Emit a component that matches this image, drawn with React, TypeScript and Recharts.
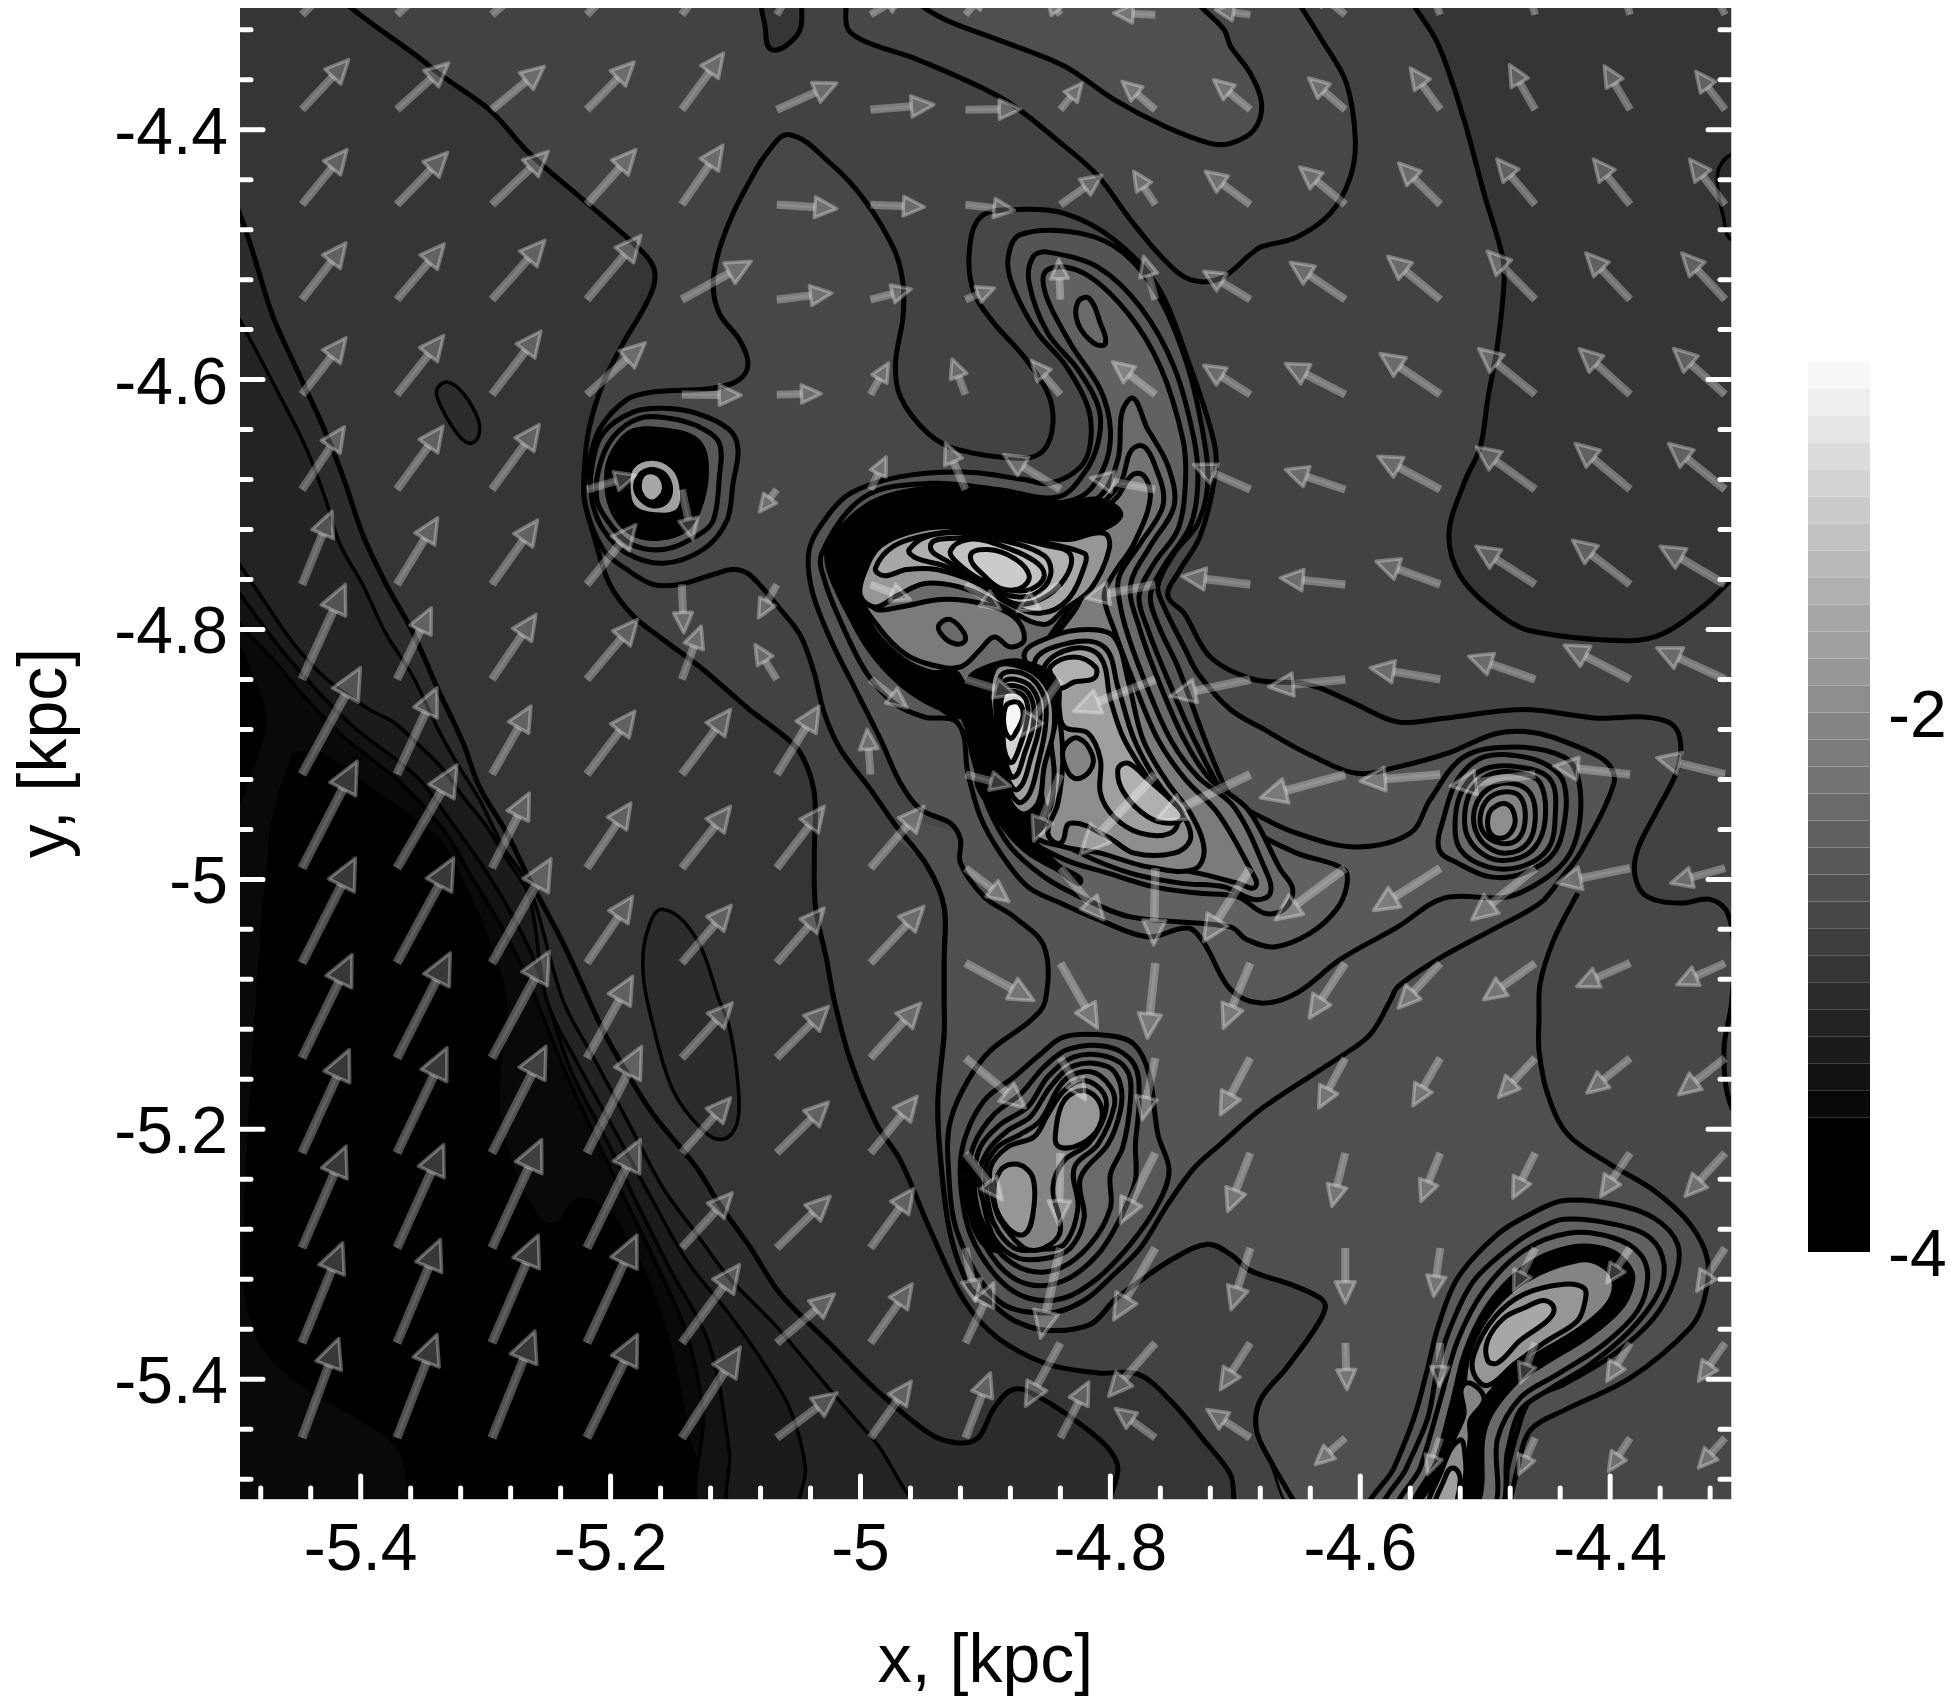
import { ScatterChart, Scatter, XAxis, YAxis, BarChart, Bar, Label } from 'recharts';

// field of view, kpc
const xDomain = [-5.4966, -4.3033];
const yDomain = [-5.4959, -4.3026];

const xTicks = [-5.48, -5.44, -5.4, -5.36, -5.32, -5.28, -5.24, -5.2, -5.16, -5.12, -5.08, -5.04, -5, -4.96, -4.92, -4.88, -4.84, -4.8, -4.76, -4.72, -4.68, -4.64, -4.6, -4.56, -4.52, -4.48, -4.44, -4.4, -4.36, -4.32];
const yTicks = xTicks;
const majorTicks = [-5.4, -5.2, -5, -4.8, -4.6, -4.4];

// colour bar levels (log scale), bottom band is the wide black one
const barLevels = [-3.5, -3.4, -3.3, -3.2, -3.1, -3, -2.9, -2.8, -2.7, -2.6, -2.5, -2.4, -2.3, -2.2, -2.1, -2, -1.9, -1.8, -1.7, -1.6, -1.5, -1.4, -1.3, -1.2, -1.1, -1, -0.9, -0.8, -0.7];
const barHeights = [0.5, 0.1, 0.1, 0.1, 0.1, 0.1, 0.1, 0.1, 0.1, 0.1, 0.1, 0.1, 0.1, 0.1, 0.1, 0.1, 0.1, 0.1, 0.1, 0.1, 0.1, 0.1, 0.1, 0.1, 0.1, 0.1, 0.1, 0.1, 0.1];

// velocity arrows: tails on a regular grid, components in arbitrary units
const arrowXs = [-5.447, -5.371, -5.295, -5.219, -5.143, -5.067, -4.992, -4.916, -4.84, -4.764, -4.688, -4.612, -4.536, -4.46, -4.384, -4.308];
const arrowYs = [-4.308, -4.384, -4.46, -4.536, -4.612, -4.688, -4.764, -4.84, -4.916, -4.991, -5.067, -5.143, -5.219, -5.295, -5.371, -5.447];
const arrowU = [
  [150, 155, 155, 140, 125, 50, 100, 60, -40, -125, -105, -100, -40, -30, -30, -50],
  [140, 155, 157, 142, 125, 180, 190, 165, 65, -100, -110, -110, -90, -77, -78, -88],
  [135, 152, 169, 147, 123, 180, 162, 147, 124, -65, -135, -137, -125, -115, -110, -107],
  [132, 142, 159, 162, 208, 165, 122, 87, -5, -35, -140, -165, -158, -143, -133, -130],
  [132, 140, 147, 175, 178, 133, 54, -40, -87, -128, -140, -180, -180, -170, -153, -155],
  [127, 138, 142, 147, 33, -52, 47, -60, -170, -195, -170, -180, -187, -177, -165, -170],
  [90, 122, 137, 147, 6, -55, 120, 105, -130, -210, -205, -195, -193, -178, -173, -195],
  [130, 103, 132, 152, 58, -65, 110, 150, -120, -245, -240, -230, -210, -200, -198, -205],
  [175, 120, 117, 144, 146, 127, -10, 135, -80, -225, -280, -255, -240, -255, -230, -205],
  [165, 180, 112, 132, 146, 142, 160, 130, 130, -5, -140, -210, -200, -190, -220, -163],
  [160, 170, 177, 137, 148, 142, 160, 205, 111, -24, -81, -108, -126, -155, -160, -145],
  [150, 160, 172, 137, 151, 155, 150, 180, 75, -40, -90, -80, -82, -110, -130, -140],
  [142, 150, 162, 164, 146, 155, 140, 110, -5, -105, -68, -40, -58, -67, -88, -120],
  [132, 140, 149, 160, 151, 160, 130, 30, -60, -125, -58, 0, -20, -65, -70, -85],
  [122, 130, 139, 150, 173, 173, 125, 85, -105, -140, -90, 5, -3, -45, -70, -80],
  [110, 120, 129, 152, 175, 180, 122, 75, 85, -120, -130, -90, -38, -50, -65, -80],
];
const arrowV = [
  [150, 145, 135, 145, 170, 85, 60, 70, 50, 5, 15, 80, 100, 100, 100, 100],
  [150, 140, 130, 143, 170, 80, 15, 2, 80, 85, 90, 95, 125, 135, 132, 115],
  [165, 157, 160, 165, 178, -12, -7, -17, 88, 100, 100, 113, 125, 137, 137, 137],
  [170, 167, 178, 192, 115, 20, 32, 35, 120, 130, 85, 112, 130, 145, 140, 140],
  [170, 177, 190, 155, -2, 3, 95, 107, 102, 98, 88, 93, 123, 138, 138, 138],
  [188, 190, 195, 43, -150, -67, 98, 140, 105, 35, 75, 60, 100, 128, 138, 138],
  [220, 200, 193, 180, -145, -100, -45, -75, -80, -40, 25, 20, 70, 115, 133, 115],
  [285, 215, 195, 180, 160, 105, -85, -45, -170, -95, -50, -22, 35, 70, 103, 95],
  [320, 260, 205, 190, 195, 205, 135, -35, -200, -240, -135, -70, -20, -35, 25, 50],
  [320, 310, 225, 195, 185, 185, 185, -100, -155, -230, -220, -155, -127, -155, -45, -45],
  [315, 315, 313, 200, 173, 165, 170, -112, -195, -225, -195, -165, -135, -110, -70, -65],
  [310, 315, 320, 245, 165, 155, 165, -150, -125, -185, -170, -150, -143, -118, -105, -110],
  [310, 315, 320, 320, 165, 153, 170, -140, -215, -210, -175, -160, -145, -135, -130, -130],
  [305, 310, 325, 325, 165, 155, 178, -160, -270, -215, -185, -165, -145, -130, -105, -130],
  [300, 310, 323, 323, 235, 147, 177, 180, -190, -160, -140, -140, -130, -120, -115, -115],
  [298, 310, 320, 310, 272, 135, 170, 195, 168, 88, 85, -80, -110, -110, -100, -90],
];
const ARROW_SCALE = 0.000267;

// contours, x,y pairs in pc. Ones that leave the frame are closed outside it
const closeBR = [-4250, -5520, -4250, -4250, -5520, -4250];

const floorField = [-5600, -5600, -4200, -5600, -4200, -4200, -5600, -4200];
const holeLow = [-5454, -4899, -5430, -4899, -5385, -4931, -5355, -4952, -5334, -4971, -5313, -5011, -5291, -5064, -5283, -5097, -5289, -5177, -5283, -5212, -5265, -5257, -5247, -5275, -5230, -5257, -5219, -5255, -5198, -5268, -5185, -5289, -5171, -5316, -5158, -5351, -5147, -5391, -5137, -5444, -5129, -5503, -5351, -5503, -5371, -5455, -5404, -5431, -5438, -5412, -5478, -5377, -5492, -5337, -5494, -5284, -5489, -5177, -5484, -5097, -5473, -4963, -5465, -4928, -5457, -4907];
const holeWedge = [-5508, -4813, -5497, -4813, -5489, -4830, -5476, -4864, -5478, -4888, -5492, -4928, -5500, -4944, -5510, -4944];
const lineE = [-5515, -4760, -5465, -4830, -5417, -4883, -5371, -4920, -5334, -4960, -5313, -4995, -5286, -5040, -5265, -5083, -5238, -5150, -5211, -5209, -5185, -5263, -5161, -5313, -5139, -5364, -5126, -5425, -5119, -5508, ...closeBR];
const lineD = [-5515, -4745, -5497, -4771, -5457, -4824, -5409, -4875, -5355, -4918, -5329, -4952, -5302, -4990, -5278, -5030, -5259, -5070, -5233, -5150, -5203, -5209, -5177, -5263, -5153, -5311, -5121, -5372, -5105, -5457, -5099, -5508, ...closeBR];
const lineC = [-5515, -4725, -5497, -4748, -5478, -4776, -5454, -4811, -5428, -4839, -5393, -4864, -5374, -4874, -5355, -4891, -5334, -4912, -5318, -4934, -5299, -4958, -5283, -4984, -5265, -5014, -5251, -5097, -5225, -5150, -5195, -5204, -5169, -5252, -5139, -5305, -5105, -5348, -5077, -5388, -5056, -5425, -5044, -5471, -5045, -5508, ...closeBR];
const lineB = [-5515, -4520, -5497, -4552, -5470, -4603, -5444, -4654, -5428, -4696, -5417, -4731, -5398, -4765, -5380, -4803, -5358, -4838, -5339, -4878, -5323, -4907, -5305, -4936, -5286, -4974, -5265, -5006, -5238, -5097, -5214, -5142, -5185, -5196, -5158, -5247, -5131, -5284, -5105, -5319, -5069, -5356, -5024, -5409, -4989, -5449, -4938, -5508, ...closeBR];
const lineA = [-5515, -4430, -5497, -4467, -5486, -4499, -5470, -4550, -5452, -4590, -5430, -4638, -5414, -4678, -5398, -4725, -5380, -4763, -5358, -4803, -5339, -4846, -5318, -4891, -5305, -4926, -5283, -4963, -5265, -5000, -5238, -5051, -5206, -5121, -5185, -5158, -5166, -5188, -5131, -5231, -5113, -5260, -5088, -5295, -5064, -5332, -5024, -5372, -4987, -5409, -4944, -5444, -4922, -5451, -4906, -5447, -4893, -5423, -4877, -5408, -4856, -5415, -4824, -5436, -4802, -5455, -4794, -5471, -4797, -5508, ...closeBR];
const smallOval = [-5339, -4608, -5331, -4602, -5318, -4611, -5306, -4632, -5306, -4646, -5313, -4651, -5323, -4643, -5337, -4619];
const longOval = [-5158, -5024, -5171, -5043, -5174, -5075, -5167, -5113, -5150, -5169, -5126, -5201, -5110, -5208, -5099, -5196, -5098, -5164, -5105, -5118, -5113, -5097, -5131, -5048];
const lineG = [-5415, -4280, -5345, -4349, -5297, -4384, -5265, -4419, -5222, -4456, -5185, -4488, -5167, -4507, -5165, -4523, -5174, -4544, -5190, -4571, -5206, -4603, -5217, -4638, -5221, -4670, -5221, -4696, -5214, -4723, -5201, -4763, -5182, -4789, -5158, -4808, -5126, -4832, -5089, -4864, -5064, -4883, -5048, -4899, -5037, -4931, -5037, -4982, -5036, -5022, -5027, -5065, -5021, -5097, -5008, -5145, -4987, -5196, -4968, -5225, -4944, -5281, -4917, -5337, -4890, -5367, -4850, -5388, -4810, -5395, -4778, -5396, -4752, -5417, -4725, -5449, -4704, -5476, -4694, -5508, -4250, -5520, -4250, -4250];
const topDip = [-5077, -4285, -5076, -4320, -5071, -4336, -5053, -4327, -5047, -4312, -5053, -4285];
const rightLow = [-4565, -4285, -4538, -4331, -4517, -4392, -4501, -4451, -4486, -4502, -4485, -4523, -4490, -4571, -4498, -4616, -4504, -4654, -4517, -4683, -4529, -4723, -4520, -4757, -4490, -4787, -4464, -4801, -4386, -4809, -4357, -4803, -4325, -4781, -4303, -4760, -4270, -4730, -4250, -4250, -4565, -4250];
const edgeDip = [-4303, -4420, -4314, -4435, -4309, -4472, -4303, -4488, -4280, -4488, -4280, -4420];
const ridgeOuter = [-5009, -4280, -5011, -4317, -4997, -4329, -4954, -4344, -4885, -4376, -4837, -4413, -4810, -4437, -4784, -4472, -4757, -4504, -4736, -4520, -4712, -4519, -4687, -4499, -4680, -4494, -4651, -4486, -4624, -4467, -4608, -4438, -4604, -4408, -4611, -4363, -4629, -4331, -4660, -4285, -4690, -4260, -5009, -4260];
const ridgeInner = [-4960, -4290, -4938, -4309, -4890, -4328, -4837, -4349, -4797, -4376, -4757, -4397, -4720, -4411, -4704, -4411, -4685, -4400, -4679, -4379, -4688, -4355, -4704, -4333, -4709, -4320, -4736, -4290, -4736, -4260, -4960, -4260];
const outerEnvelope = [-4647, -5508, -4672, -5465, -4683, -5441, -4680, -5417, -4659, -5391, -4637, -5361, -4628, -5343, -4632, -5335, -4656, -5324, -4688, -5313, -4704, -5300, -4722, -5292, -4749, -5303, -4776, -5321, -4797, -5337, -4816, -5356, -4850, -5361, -4877, -5353, -4898, -5337, -4912, -5327, -4928, -5284, -4936, -5222, -4938, -5177, -4933, -5124, -4933, -5097, -4933, -5065, -4933, -5022, -4946, -4990, -4971, -4958, -4992, -4928, -5016, -4896, -5029, -4867, -5037, -4835, -5048, -4805, -5064, -4784, -5089, -4756, -5102, -4752, -5118, -4756, -5145, -4764, -5166, -4764, -5187, -4752, -5206, -4736, -5221, -4696, -5218, -4670, -5209, -4640, -5187, -4616, -5166, -4610, -5118, -4607, -5097, -4600, -5090, -4587, -5097, -4568, -5113, -4547, -5118, -4523, -5113, -4496, -5102, -4467, -5088, -4440, -5075, -4419, -5057, -4404, -5024, -4427, -4997, -4456, -4973, -4496, -4966, -4523, -4966, -4550, -4972, -4587, -4968, -4614, -4946, -4643, -4922, -4656, -4869, -4663, -4853, -4656, -4846, -4635, -4850, -4611, -4869, -4582, -4893, -4555, -4909, -4531, -4913, -4499, -4904, -4470, -4877, -4464, -4837, -4467, -4797, -4488, -4762, -4526, -4736, -4590, -4717, -4650, -4716, -4675, -4728, -4725, -4746, -4755, -4754, -4773, -4741, -4787, -4720, -4822, -4685, -4840, -4647, -4843, -4632, -4847, -4605, -4859, -4570, -4874, -4533, -4871, -4469, -4864, -4410, -4871, -4373, -4870, -4352, -4875, -4344, -4888, -4346, -4912, -4362, -4944, -4378, -4976, -4380, -4998, -4370, -5014, -4343, -5019, -4320, -5016, -4306, -5027, -4301, -5060, -4303, -5100, -4309, -5137, -4303, -5182, -4280, -5210, -4250, -5300, -4250, -5520];

// floor of the central region: only its two real edges get a line
const centerEdgeWest = [-4647, -5508, -4672, -5465, -4683, -5441, -4680, -5417, -4659, -5391, -4637, -5361, -4628, -5343, -4632, -5335, -4656, -5324, -4688, -5313, -4704, -5300, -4722, -5292, -4749, -5303, -4776, -5321, -4797, -5337, -4816, -5356, -4850, -5361, -4877, -5353, -4898, -5337, -4912, -5327, -4928, -5284, -4936, -5222, -4938, -5177, -4933, -5124, -4933, -5097, -4933, -5065, -4933, -5022, -4946, -4990, -4971, -4958];
const centerEdgeEast = [-4426, -5011, -4445, -5048, -4456, -5083, -4457, -5113, -4457, -5137, -4450, -5172, -4434, -5204, -4400, -5228, -4365, -5249, -4336, -5276, -4322, -5305, -4325, -5337, -4336, -5359, -4384, -5399, -4437, -5425, -4464, -5441, -4474, -5471, -4482, -5508];
const centerFloor = [...centerEdgeWest, -4898, -4968, -4450, -4990, ...centerEdgeEast];

const blobOuter = [-5182, -4626, -5158, -4623, -5131, -4627, -5105, -4640, -5098, -4656, -5102, -4683, -5107, -4713, -5126, -4736, -5158, -4747, -5187, -4739, -5206, -4720, -5215, -4696, -5215, -4670, -5206, -4643];
const blobSecond = [-5177, -4631, -5153, -4631, -5129, -4638, -5113, -4651, -5113, -4678, -5118, -4713, -5131, -4725, -5158, -4736, -5185, -4731, -5203, -4712, -5211, -4696, -5209, -4670, -5198, -4646];
const blobDense = [-5182, -4639, -5153, -4639, -5131, -4646, -5122, -4662, -5124, -4694, -5137, -4720, -5161, -4729, -5185, -4724, -5201, -4704, -5205, -4675, -5198, -4654];
const blobRingA = [-5183, -4670, -5167, -4663, -5150, -4670, -5143, -4686, -5146, -4705, -5166, -4708, -5182, -4702, -5186, -4686];
const blobRingB = [-5178, -4675, -5167, -4670, -5155, -4675, -5150, -4688, -5155, -4700, -5167, -4703, -5178, -4696, -5182, -4686];
const blobCore = [-5174, -4676, -5166, -4674, -5159, -4679, -5157, -4688, -5161, -4695, -5167, -4698, -5174, -4694, -5177, -4686];

const complexA = [-5041, -4736, -5039, -4768, -5024, -4808, -5005, -4846, -4984, -4888, -4968, -4923, -4952, -4944, -4928, -4955, -4920, -4968, -4920, -4987, -4901, -5014, -4877, -5030, -4853, -5054, -4852, -5097, -4864, -5113, -4896, -5137, -4914, -5161, -4928, -5193, -4930, -5225, -4922, -5284, -4890, -5337, -4850, -5347, -4821, -5337, -4797, -5316, -4776, -5295, -4754, -5260, -4733, -5231, -4712, -5212, -4677, -5182, -4616, -5142, -4592, -5124, -4576, -5097, -4570, -5086, -4538, -5064, -4490, -5038, -4456, -5019, -4440, -5000, -4424, -4979, -4397, -4923, -4402, -4907, -4421, -4896, -4458, -4883, -4490, -4883, -4530, -4899, -4570, -4910, -4603, -4915, -4643, -4899, -4677, -4880, -4704, -4864, -4730, -4835, -4741, -4814, -4757, -4782, -4762, -4765, -4749, -4739, -4730, -4715, -4722, -4683, -4725, -4648, -4738, -4590, -4760, -4536, -4789, -4499, -4824, -4483, -4872, -4484, -4882, -4504, -4877, -4528, -4858, -4563, -4837, -4587, -4818, -4622, -4816, -4651, -4824, -4670, -4848, -4683, -4869, -4680, -4917, -4674, -4970, -4678, -5008, -4691, -5027, -4710];
const complexB = [-5031, -4739, -5028, -4763, -5013, -4800, -4995, -4835, -4973, -4859, -4949, -4870, -4922, -4875, -4914, -4915, -4904, -4950, -4888, -4979, -4866, -5006, -4840, -5019, -4810, -5032, -4770, -5046, -4738, -5039, -4725, -5051, -4704, -5088, -4680, -5099, -4651, -5091, -4616, -5064, -4570, -5038, -4533, -5015, -4482, -5014, -4450, -4998, -4432, -4979, -4424, -4950, -4426, -4918, -4437, -4902, -4477, -4894, -4517, -4902, -4544, -4936, -4560, -4963, -4603, -4974, -4651, -4963, -4691, -4944, -4704, -4934, -4722, -4894, -4746, -4830, -4761, -4798, -4768, -4773, -4757, -4749, -4736, -4717, -4730, -4683, -4733, -4648, -4749, -4590, -4776, -4542, -4810, -4510, -4850, -4498, -4862, -4502, -4865, -4523, -4850, -4563, -4826, -4592, -4809, -4624, -4810, -4651, -4821, -4675, -4842, -4694, -4890, -4688, -4944, -4683, -4997, -4694];
const complexC = [-5020, -4741, -5019, -4763, -5004, -4798, -4987, -4824, -4965, -4846, -4939, -4862, -4920, -4867, -4910, -4902, -4898, -4942, -4880, -4974, -4853, -4998, -4824, -5014, -4784, -5030, -4704, -5038, -4691, -5048, -4669, -5054, -4640, -5043, -4619, -5024, -4611, -5006, -4613, -4992, -4651, -4979, -4691, -4958, -4704, -4942, -4733, -4888, -4754, -4840, -4770, -4800, -4777, -4773, -4765, -4747, -4746, -4720, -4740, -4683, -4742, -4648, -4760, -4590, -4786, -4547, -4821, -4515, -4850, -4512, -4852, -4531, -4832, -4571, -4808, -4608, -4800, -4640, -4805, -4670, -4824, -4694, -4864, -4699, -4917, -4694, -4970, -4696, -5000, -4705];
const lobePeak = [-4826, -4538, -4817, -4535, -4808, -4555, -4804, -4571, -4813, -4571, -4826, -4555];
const complexD = [-5016, -4744, -5001, -4717, -4963, -4697, -4914, -4692, -4872, -4700, -4837, -4704, -4808, -4693, -4794, -4664, -4785, -4616, -4770, -4640, -4754, -4669, -4749, -4701, -4768, -4733, -4784, -4765, -4777, -4798, -4762, -4840, -4741, -4888, -4720, -4920, -4690, -4944, -4664, -4992, -4654, -5008, -4661, -5024, -4677, -5027, -4698, -5014, -4730, -5011, -4765, -5006, -4802, -4995, -4837, -4984, -4872, -4963, -4893, -4931, -4904, -4888, -4914, -4859, -4941, -4851, -4965, -4835, -4989, -4808, -5008, -4773];
const denseArc = [-5029, -4739, -5015, -4715, -4984, -4693, -4930, -4684, -4877, -4689, -4837, -4697, -4810, -4694, -4790, -4706, -4800, -4719, -4834, -4728, -4877, -4724, -4914, -4719, -4952, -4720, -4984, -4733, -4999, -4755, -5000, -4773, -4987, -4800, -4965, -4822, -4944, -4832, -4920, -4835, -4917, -4870, -4946, -4859, -4973, -4840, -4997, -4811, -5019, -4773];
const flankA = [-4794, -4768, -4788, -4798, -4773, -4840, -4752, -4888, -4730, -4918, -4701, -4942, -4677, -4990, -4672, -5011, -4685, -5016, -4709, -5006, -4744, -5003, -4784, -4995, -4824, -4979, -4856, -4958, -4877, -4926, -4877, -4862, -4850, -4808, -4824, -4768, -4813, -4710, -4792, -4683, -4778, -4653, -4762, -4675, -4758, -4701, -4776, -4731, -4792, -4755];
const flankB = [-4805, -4773, -4797, -4800, -4781, -4843, -4762, -4888, -4740, -4920, -4714, -4947, -4688, -4992, -4684, -5006, -4698, -5003, -4730, -4995, -4776, -4987, -4816, -4968, -4842, -4952, -4861, -4926, -4861, -4862, -4845, -4808, -4824, -4776, -4816, -4720, -4794, -4693, -4778, -4675, -4768, -4693, -4781, -4731, -4797, -4755];
const lakeA = [-4869, -4822, -4848, -4806, -4818, -4800, -4797, -4806, -4786, -4840, -4774, -4888, -4754, -4923, -4736, -4947, -4725, -4976, -4733, -4992, -4770, -4990, -4808, -4979, -4837, -4974, -4861, -4963, -4848, -4942, -4845, -4915, -4848, -4880, -4842, -4851];
const lakeB = [-4861, -4827, -4834, -4811, -4805, -4814, -4794, -4846, -4781, -4888, -4762, -4923, -4741, -4950, -4736, -4968, -4749, -4979, -4781, -4979, -4802, -4966, -4832, -4955, -4840, -4971, -4850, -4963, -4842, -4939, -4838, -4904, -4840, -4875, -4842, -4854];
const lakeC = [-4853, -4830, -4829, -4815, -4808, -4822, -4800, -4856, -4789, -4888, -4765, -4926, -4746, -4950, -4752, -4963, -4776, -4963, -4797, -4950, -4808, -4931, -4808, -4904, -4818, -4883, -4837, -4878, -4841, -4862, -4842, -4843];
const lakeCrest = [-4848, -4830, -4829, -4822, -4812, -4830, -4813, -4839, -4829, -4842, -4840, -4847, -4845, -4840];
const lakeDip = [-4837, -4894, -4826, -4887, -4814, -4902, -4818, -4915, -4829, -4919, -4837, -4907];
const lakeSouth = [-4794, -4912, -4786, -4907, -4770, -4920, -4749, -4939, -4742, -4950, -4752, -4955, -4770, -4950, -4789, -4931];
const westPool = [-5000, -4773, -4984, -4800, -4965, -4819, -4944, -4828, -4920, -4830, -4904, -4816, -4893, -4806, -4880, -4814, -4869, -4808, -4877, -4790, -4904, -4779, -4936, -4776, -4968, -4782, -4987, -4784];
const westDip = [-4937, -4796, -4928, -4792, -4917, -4803, -4917, -4810, -4926, -4811, -4936, -4803];
const crownA = [-4997, -4755, -4984, -4733, -4952, -4720, -4914, -4718, -4877, -4724, -4834, -4728, -4805, -4723, -4801, -4736, -4816, -4768, -4837, -4784, -4853, -4796, -4882, -4784, -4914, -4768, -4947, -4763, -4971, -4773, -4988, -4782, -5000, -4773];
const crownB = [-4988, -4751, -4973, -4733, -4944, -4724, -4904, -4721, -4861, -4729, -4821, -4739, -4820, -4747, -4834, -4776, -4856, -4787, -4882, -4779, -4906, -4763, -4939, -4752, -4963, -4752, -4981, -4757];
const crownC = [-4961, -4736, -4941, -4724, -4898, -4724, -4850, -4733, -4832, -4740, -4837, -4760, -4856, -4776, -4877, -4779, -4904, -4763, -4933, -4749, -4955, -4743];
const crownD = [-4944, -4733, -4925, -4727, -4890, -4728, -4853, -4741, -4848, -4757, -4861, -4772, -4880, -4773, -4906, -4763, -4928, -4747];
const crownE = [-4928, -4737, -4914, -4728, -4893, -4731, -4861, -4745, -4853, -4757, -4864, -4768, -4882, -4768, -4904, -4760, -4922, -4747];
const crownF = [-4912, -4741, -4898, -4736, -4877, -4743, -4865, -4757, -4872, -4767, -4888, -4767, -4901, -4757];
const southFlankDense = [-4906, -4915, -4893, -4950, -4872, -4976, -4845, -4993, -4822, -5003, -4842, -4986, -4861, -4966, -4880, -4939];
const spikeBase = [-4916, -4840, -4893, -4826, -4869, -4824, -4842, -4840, -4841, -4870, -4850, -4902, -4853, -4931, -4850, -4952, -4861, -4966, -4882, -4960, -4898, -4939, -4909, -4907, -4916, -4875];
const spikeA = [-4893, -4832, -4866, -4832, -4848, -4851, -4845, -4878, -4853, -4910, -4858, -4939, -4872, -4947, -4885, -4926, -4893, -4888];
const spikeB = [-4888, -4838, -4868, -4836, -4853, -4854, -4852, -4878, -4858, -4908, -4865, -4932, -4874, -4938, -4884, -4918, -4890, -4888];
const spikeC = [-4886, -4843, -4869, -4842, -4858, -4856, -4857, -4878, -4864, -4904, -4870, -4923, -4877, -4928, -4884, -4912, -4888, -4886];
const spikeD = [-4886, -4848, -4870, -4847, -4862, -4859, -4862, -4878, -4869, -4900, -4874, -4915, -4879, -4918, -4884, -4904, -4887, -4883];
const spikeE = [-4886, -4852, -4872, -4851, -4866, -4862, -4868, -4878, -4873, -4895, -4878, -4906, -4881, -4906, -4885, -4896, -4886, -4880];
const spikeTip = [-4884, -4862, -4878, -4858, -4872, -4860, -4870, -4870, -4876, -4883, -4880, -4887, -4885, -4878];

const southA = [-4837, -5126, -4802, -5125, -4781, -5132, -4769, -5156, -4762, -5204, -4753, -5233, -4762, -5260, -4784, -5292, -4810, -5319, -4837, -5335, -4866, -5335, -4890, -5319, -4912, -5284, -4920, -5241, -4917, -5209, -4901, -5177, -4877, -5158, -4856, -5140];
const southB = [-4834, -5136, -4802, -5134, -4781, -5148, -4777, -5177, -4780, -5212, -4780, -5241, -4792, -5271, -4810, -5300, -4837, -5321, -4866, -5324, -4890, -5308, -4909, -5273, -4914, -5239, -4909, -5212, -4893, -5188, -4872, -5172, -4853, -5150];
const southC = [-4829, -5142, -4802, -5142, -4786, -5154, -4784, -5177, -4790, -5214, -4800, -5236, -4800, -5263, -4816, -5292, -4840, -5311, -4866, -5313, -4890, -5297, -4905, -5268, -4909, -5239, -4904, -5214, -4888, -5196, -4866, -5182, -4850, -5158];
const southDense = [-4917, -5220, -4905, -5233, -4908, -5255, -4901, -5273, -4888, -5297, -4904, -5292, -4916, -5263, -4918, -5239];
const southD = [-4829, -5149, -4802, -5150, -4792, -5164, -4792, -5185, -4802, -5212, -4824, -5239, -4821, -5271, -4832, -5295, -4850, -5303, -4874, -5303, -4893, -5287, -4902, -5257, -4905, -5236, -4898, -5217, -4882, -5201, -4864, -5190, -4848, -5166];
const southE = [-4837, -5161, -4816, -5154, -4800, -5166, -4797, -5182, -4810, -5212, -4829, -5231, -4826, -5263, -4837, -5292, -4856, -5296, -4877, -5295, -4893, -5276, -4899, -5252, -4900, -5231, -4890, -5214, -4872, -5204, -4856, -5193];
const southF = [-4837, -5169, -4821, -5161, -4805, -5172, -4805, -5190, -4818, -5212, -4837, -5225, -4846, -5247, -4840, -5281, -4853, -5295, -4869, -5295, -4888, -5273, -4894, -5255, -4896, -5231, -4882, -5214, -4861, -5206, -4850, -5188];
const southPeakA = [-4837, -5177, -4821, -5169, -4808, -5180, -4809, -5198, -4824, -5212, -4841, -5214, -4844, -5204];
const southPeakB = [-4888, -5233, -4874, -5228, -4862, -5239, -4862, -5268, -4869, -5284, -4882, -5279, -4893, -5257];

const eastA = [-4437, -4923, -4436, -4950, -4445, -4979, -4469, -4995, -4496, -4998, -4522, -4987, -4537, -4976, -4533, -4950, -4522, -4920, -4501, -4902, -4469, -4902, -4448, -4910];
const eastB = [-4448, -4920, -4444, -4950, -4450, -4976, -4472, -4990, -4498, -4990, -4520, -4976, -4524, -4952, -4518, -4928, -4501, -4912, -4474, -4910];
const eastC = [-4456, -4923, -4452, -4952, -4460, -4974, -4477, -4984, -4498, -4982, -4514, -4966, -4516, -4944, -4509, -4926, -4493, -4915, -4472, -4915];
const eastD = [-4464, -4931, -4460, -4952, -4466, -4971, -4482, -4979, -4498, -4974, -4508, -4960, -4508, -4942, -4498, -4928, -4480, -4923];
const eastE = [-4472, -4934, -4468, -4952, -4474, -4968, -4488, -4971, -4501, -4963, -4504, -4950, -4498, -4936, -4485, -4930];
const eastF = [-4482, -4940, -4476, -4952, -4480, -4963, -4488, -4967, -4496, -4963, -4498, -4952, -4494, -4943];

const cornerA = [-4437, -5257, -4397, -5260, -4365, -5271, -4346, -5292, -4348, -5319, -4365, -5351, -4397, -5380, -4437, -5404, -4464, -5417, -4474, -5441, -4482, -5471, -4490, -5508, -4591, -5508, -4573, -5471, -4557, -5431, -4546, -5391, -4538, -5359, -4522, -5319, -4490, -5284, -4464, -5268];
const cornerB = [-4437, -5272, -4397, -5276, -4368, -5287, -4357, -5308, -4362, -5332, -4384, -5361, -4416, -5388, -4450, -5409, -4472, -5425, -4482, -5457, -4493, -5508, -4579, -5508, -4563, -5471, -4546, -5431, -4538, -5391, -4528, -5359, -4509, -5321, -4477, -5292, -4456, -5279];
const cornerC = [-4432, -5283, -4397, -5287, -4376, -5300, -4370, -5319, -4378, -5345, -4405, -5372, -4442, -5396, -4472, -5415, -4490, -5447, -4498, -5508, -4568, -5508, -4552, -5471, -4536, -5417, -4522, -5369, -4501, -5329, -4469, -5297];
const cornerDense = [-4429, -5292, -4400, -5295, -4384, -5308, -4380, -5321, -4389, -5343, -4416, -5367, -4450, -5388, -4477, -5407, -4498, -5439, -4509, -5508, -4557, -5508, -4541, -5465, -4528, -5417, -4517, -5375, -4496, -5335, -4464, -5305];
const cornerD = [-4426, -5305, -4408, -5308, -4397, -5321, -4402, -5340, -4426, -5361, -4458, -5380, -4482, -5396, -4501, -5417, -4512, -5431, -4517, -5412, -4512, -5377, -4493, -5343, -4464, -5319];
const cornerE = [-4437, -5324, -4421, -5327, -4420, -5337, -4426, -5353, -4450, -5369, -4477, -5388, -4498, -5405, -4509, -5396, -4509, -5380, -4493, -5351, -4469, -5332];
const cornerF = [-4453, -5337, -4445, -5343, -4450, -5353, -4472, -5369, -4490, -5387, -4498, -5385, -4498, -5369, -4485, -5351, -4469, -5343];
const neckA = [-4517, -5404, -4501, -5415, -4512, -5433, -4512, -5447, -4517, -5487, -4533, -5508, -4554, -5508, -4541, -5481, -4525, -5447, -4517, -5428];
const neckB = [-4521, -5449, -4516, -5463, -4517, -5484, -4530, -5508, -4546, -5508, -4536, -5476];
const neckC = [-4526, -5471, -4520, -5481, -4528, -5508, -4541, -5508, -4533, -5481];

// painter's order: level (log scale) and outline of each filled contour
const underLayers: [number, number[]][] = [
  [-3.4, floorField], [-3.5, holeLow], [-3.5, holeWedge],
  [-3.3, lineE], [-3.2, lineD], [-3.1, lineC], [-3, lineB], [-2.9, lineA],
  [-3, smallOval], [-3, longOval],
  [-2.75, lineG], [-2.9, topDip], [-2.9, rightLow], [-3, edgeDip],
  [-2.7, ridgeOuter], [-2.6, ridgeInner], [-2.7, outerEnvelope],
];
const overLayers: [number, number[]][] = [
  [-2.6, blobOuter], [-2.5, blobSecond], [-3.5, blobDense], [-1.7, blobRingA], [-3.5, blobRingB], [-1.6, blobCore],
  [-2.55, complexA], [-2.5, complexB], [-2.4, complexC], [-2.3, lobePeak], [-2.3, complexD],
  [-2.2, flankA], [-2.1, flankB], [-2, lakeA], [-1.9, lakeB], [-1.7, lakeC], [-1.5, lakeCrest], [-2, lakeDip], [-1.5, lakeSouth],
  [-2.1, westPool], [-2.3, westDip],
  [-3.5, denseArc], [-3.5, southFlankDense],
  [-1.8, crownA], [-1.6, crownB], [-1.5, crownC], [-1.4, crownD], [-1.3, crownE], [-1.2, crownF],
  [-3.5, spikeBase], [-1.9, spikeA], [-1.7, spikeB], [-1.5, spikeC], [-1.3, spikeD], [-1.1, spikeE], [-0.7, spikeTip],
  [-2.5, southA], [-2.4, southB], [-2.3, southC], [-3.5, southDense], [-2.2, southD], [-2.1, southE], [-2, southF], [-1.8, southPeakA], [-1.8, southPeakB],
  [-2.4, eastA], [-2.3, eastB], [-2.2, eastC], [-2.1, eastD], [-2, eastE], [-1.9, eastF],
  [-2.5, cornerA], [-2.4, cornerB], [-2.3, cornerC], [-3.5, cornerDense], [-2, cornerD], [-1.8, cornerE], [-1.6, cornerF],
  [-2, neckA], [-1.9, neckB], [-1.7, neckC],
];

const FONT = '"Liberation Sans", Arial, sans-serif';

function grayOf(level: number): string {
  const g = Math.max(0, Math.min(255, Math.round(9 + (level + 3.4) * 88)));
  return `rgb(${g},${g},${g})`;
}

function toPoints(flat: number[]) {
  const out: { x: number; y: number }[] = [];
  for (let i = 0; i < flat.length; i += 2) out.push({ x: flat[i] / 1000, y: flat[i + 1] / 1000 });
  return out;
}

type Pt = { x: number; y: number };

// smooth path through the points, handles limited by the segment so long closing edges don't swing
function smoothPath(p: Pt[], closed: boolean): string {
  const n = p.length;
  const at = (i: number) => (closed ? p[(i + n) % n] : p[Math.max(0, Math.min(n - 1, i))]);
  const tangent = (i: number) => {
    const dx = at(i + 1).x - at(i - 1).x;
    const dy = at(i + 1).y - at(i - 1).y;
    const len = Math.hypot(dx, dy) || 1;
    return { x: dx / len, y: dy / len };
  };
  let d = `M${p[0].x.toFixed(1)},${p[0].y.toFixed(1)}`;
  const last = closed ? n : n - 1;
  for (let i = 0; i < last; i++) {
    const a = at(i);
    const b = at(i + 1);
    const s = Math.hypot(b.x - a.x, b.y - a.y) / 3;
    const ta = tangent(i);
    const tb = tangent(i + 1);
    d += `C${(a.x + ta.x * s).toFixed(1)},${(a.y + ta.y * s).toFixed(1)} ${(b.x - tb.x * s).toFixed(1)},${(b.y - tb.y * s).toFixed(1)} ${b.x.toFixed(1)},${b.y.toFixed(1)}`;
  }
  return closed ? d + 'Z' : d;
}

const NoDot = () => <g />;

function contourSeries(key: string, flat: number[], opts: { fill: string; line: boolean; closed: boolean; width: number }) {
  return (
    <Scatter
      key={key}
      xAxisId="bottom"
      yAxisId="left"
      data={toPoints(flat)}
      shape={NoDot}
      isAnimationActive={false}
      legendType="none"
      line={(props: any) => (
        <path
          d={smoothPath(props.points, opts.closed)}
          fill={opts.fill}
          stroke={opts.line ? '#000' : 'none'}
          strokeWidth={opts.width}
          strokeLinejoin="round"
        />
      )}
    />
  );
}

function layerSeries(layers: [number, number[]][], prefix: string) {
  return layers.map(([level, flat], i) =>
    contourSeries(`${prefix}${i}`, flat, {
      fill: grayOf(level),
      line: level > -3.45 && flat !== floorField,
      closed: true,
      width: level <= -3 ? 3.5 : 5,
    }),
  );
}

function arrowSeries() {
  const out = [];
  for (let r = 0; r < arrowYs.length; r++) {
    for (let c = 0; c < arrowXs.length; c++) {
      const x0 = arrowXs[c];
      const y0 = arrowYs[r];
      const tail = { x: x0, y: y0 };
      const head = { x: x0 + arrowU[r][c] * ARROW_SCALE, y: y0 + arrowV[r][c] * ARROW_SCALE };
      out.push(
        <Scatter
          key={`arrow${r}-${c}`}
          xAxisId="bottom"
          yAxisId="left"
          data={[tail, head]}
          shape={NoDot}
          isAnimationActive={false}
          legendType="none"
          line={(props: any) => <Arrow from={props.points[0]} to={props.points[1]} />}
        />,
      );
    }
  }
  return out;
}

function Arrow({ from, to }: { from: Pt; to: Pt }) {
  const dx = to.x - from.x;
  const dy = to.y - from.y;
  const len = Math.hypot(dx, dy) || 1;
  const ux = dx / len;
  const uy = dy / len;
  const h = 13 + 0.15 * len;
  const w = h * 0.47;
  const shaft = 7 + 0.02 * len;
  const bx = to.x - ux * h;
  const by = to.y - uy * h;
  const head = `${to.x},${to.y} ${bx - uy * w},${by + ux * w} ${bx + uy * w},${by - ux * w}`;
  return (
    <g>
      <line x1={from.x} y1={from.y} x2={bx} y2={by} stroke="rgba(255,255,255,0.3)" strokeWidth={shaft} />
      <line x1={from.x} y1={from.y} x2={bx} y2={by} stroke="rgba(255,255,255,0.1)" strokeWidth={shaft * 0.35} />
      <polygon points={head} fill="rgba(255,255,255,0.22)" stroke="rgba(255,255,255,0.32)" strokeWidth={3.5} strokeLinejoin="round" />
    </g>
  );
}

const isMajor = (v: number) => majorTicks.includes(v);
const tickText = { fontFamily: FONT, fontSize: 66, fill: '#000' };
const tickLine = { stroke: '#fff', strokeWidth: 5, strokeLinecap: 'round' as const };

function BottomTick({ x, y, payload }: any) {
  const major = isMajor(payload.value);
  return (
    <g>
      <line x1={x} y1={y - 1} x2={x} y2={y - (major ? 23 : 11)} {...tickLine} />
      {major && <text x={x} y={y + 71} textAnchor="middle" {...tickText}>{String(payload.value)}</text>}
    </g>
  );
}

function TopTick({ x, y, payload }: any) {
  return <line x1={x} y1={y + 1} x2={x} y2={y + (isMajor(payload.value) ? 23 : 11)} {...tickLine} />;
}

function LeftTick({ x, y, payload }: any) {
  const major = isMajor(payload.value);
  return (
    <g>
      <line x1={x + 1} y1={y} x2={x + (major ? 23 : 11)} y2={y} {...tickLine} />
      {major && <text x={x - 12} y={y + 24} textAnchor="end" {...tickText}>{String(payload.value)}</text>}
    </g>
  );
}

function RightTick({ x, y, payload }: any) {
  return <line x1={x - 1} y1={y} x2={x - (isMajor(payload.value) ? 23 : 11)} y2={y} {...tickLine} />;
}

function BarTick({ x, y, payload }: any) {
  return <text x={x + 18} y={y + 24} {...tickText}>{String(payload.value - 4)}</text>;
}

const barRow = [Object.fromEntries(barHeights.map((h, i) => [`b${i}`, h]))];

export default function App() {
  return (
    <div style={{ position: 'absolute', left: 0, top: 0, width: 1950, height: 1697, background: '#fff' }}>
      <ScatterChart width={1950} height={1697} margin={{ top: 7, left: 239, right: 218, bottom: 197 }}>
        {layerSeries(underLayers, 'u')}
        {contourSeries('centerFloor', centerFloor, { fill: grayOf(-2.6), line: false, closed: true, width: 0 })}
        {contourSeries('centerWest', centerEdgeWest, { fill: 'none', line: true, closed: false, width: 5 })}
        {contourSeries('centerEast', centerEdgeEast, { fill: 'none', line: true, closed: false, width: 5 })}
        {layerSeries(overLayers, 'o')}
        {arrowSeries()}
        <XAxis
          xAxisId="bottom"
          type="number"
          dataKey="x"
          domain={xDomain}
          allowDataOverflow
          ticks={xTicks}
          interval={0}
          height={1}
          tickSize={0}
          tickMargin={0}
          tickLine={false}
          axisLine={{ stroke: '#999' }}
          tick={<BottomTick />}
        >
          <Label value="x, [kpc]" position="bottom" offset={134} fontFamily={FONT} fontSize={68} fill="#000" />
        </XAxis>
        <XAxis
          xAxisId="top"
          orientation="top"
          type="number"
          domain={xDomain}
          allowDataOverflow
          ticks={xTicks}
          interval={0}
          height={1}
          tickSize={0}
          tickMargin={0}
          tickLine={false}
          axisLine={false}
          tick={<TopTick />}
        />
        <YAxis
          yAxisId="left"
          type="number"
          dataKey="y"
          domain={yDomain}
          allowDataOverflow
          ticks={yTicks}
          interval={0}
          width={1}
          tickSize={0}
          tickMargin={0}
          tickLine={false}
          axisLine={false}
          tick={<LeftTick />}
        >
          <Label
            content={() => (
              <text transform="translate(66,753) rotate(-90)" textAnchor="middle" {...tickText} fontSize={68}>
                y, [kpc]
              </text>
            )}
          />
        </YAxis>
        <YAxis
          yAxisId="right"
          orientation="right"
          type="number"
          domain={yDomain}
          allowDataOverflow
          ticks={yTicks}
          interval={0}
          width={1}
          tickSize={0}
          tickMargin={0}
          tickLine={false}
          axisLine={{ stroke: '#999' }}
          tick={<RightTick />}
        />
      </ScatterChart>
      <div style={{ position: 'absolute', left: 1808, top: 362 }}>
        <BarChart width={142} height={950} data={barRow} margin={{ top: 0, left: 0, right: 79, bottom: 60 }} barCategoryGap={0}>
          <XAxis hide />
          <YAxis
            orientation="right"
            type="number"
            domain={[0, 3.3]}
            ticks={[0, 2]}
            interval={0}
            width={1}
            tickSize={0}
            tickMargin={0}
            tickLine={false}
            axisLine={false}
            tick={<BarTick />}
          />
          {barLevels.map((level, i) => (
            <Bar key={level} dataKey={`b${i}`} stackId="bar" fill={grayOf(level)} isAnimationActive={false} />
          ))}
        </BarChart>
      </div>
    </div>
  );
}
